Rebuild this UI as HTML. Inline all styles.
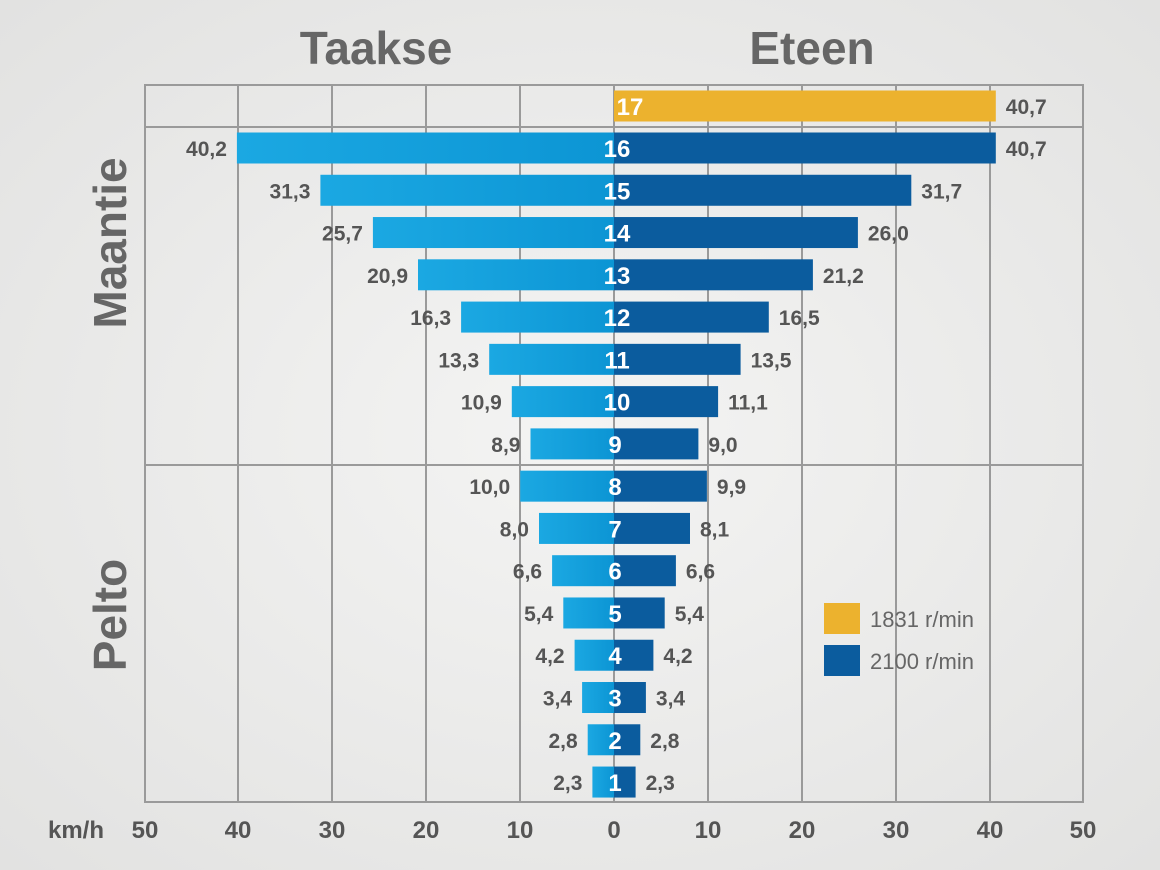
<!DOCTYPE html>
<html><head><meta charset="utf-8"><style>
html,body{margin:0;padding:0;background:#ebebeb;}
svg{display:block;font-family:"Liberation Sans",sans-serif;}
.v{font-size:21px;font-weight:bold;fill:#555;}
.e{text-anchor:end;}
.n{font-size:24px;font-weight:bold;fill:#fff;text-anchor:middle;}
</style></head><body>
<svg width="1160" height="870" viewBox="0 0 1160 870" xmlns="http://www.w3.org/2000/svg">
<defs>
<radialGradient id="bg" cx="50%" cy="50%" r="70%"><stop offset="0" stop-color="#f4f4f3"/><stop offset="1" stop-color="#e2e2e1"/></radialGradient>
<linearGradient id="lb" x1="0" x2="1"><stop offset="0" stop-color="#1ba8e2"/><stop offset="1" stop-color="#0c95d4"/></linearGradient>
</defs>
<rect width="1160" height="870" fill="url(#bg)"/>
<g stroke="#9a9a9a" stroke-width="2" fill="none">
<rect x="145" y="85" width="938" height="717"/>
<line x1="238" y1="85" x2="238" y2="802"/><line x1="332" y1="85" x2="332" y2="802"/>
<line x1="426" y1="85" x2="426" y2="802"/><line x1="520" y1="85" x2="520" y2="802"/>
<line x1="614" y1="85" x2="614" y2="802"/><line x1="708" y1="85" x2="708" y2="802"/>
<line x1="802" y1="85" x2="802" y2="802"/><line x1="896" y1="85" x2="896" y2="802"/>
<line x1="990" y1="85" x2="990" y2="802"/>
<line x1="145" y1="127" x2="1083" y2="127"/><line x1="145" y1="465" x2="1083" y2="465"/>
</g>

<g transform="translate(0,106)"><rect x="614" y="-15.5" width="381.8" height="31" fill="#ecb22e"/><text class="v" x="1005.8" y="8">40,7</text><text class="n" x="630" y="9">17</text></g>

<g transform="translate(0,148)"><rect x="614" y="-15.5" width="381.8" height="31" fill="#0b5c9e"/><text class="v" x="1005.8" y="8">40,7</text><rect x="236.9" y="-15.5" width="377.1" height="31" fill="url(#lb)"/><text class="v e" x="226.9" y="8">40,2</text><text class="n" x="617" y="9">16</text></g>
<g transform="translate(0,190.27)"><rect x="614" y="-15.5" width="297.3" height="31" fill="#0b5c9e"/><text class="v" x="921.3" y="8">31,7</text><rect x="320.4" y="-15.5" width="293.6" height="31" fill="url(#lb)"/><text class="v e" x="310.4" y="8">31,3</text><text class="n" x="617" y="9">15</text></g>
<g transform="translate(0,232.54)"><rect x="614" y="-15.5" width="243.9" height="31" fill="#0b5c9e"/><text class="v" x="867.9" y="8">26,0</text><rect x="372.9" y="-15.5" width="241.1" height="31" fill="url(#lb)"/><text class="v e" x="362.9" y="8">25,7</text><text class="n" x="617" y="9">14</text></g>
<g transform="translate(0,274.81)"><rect x="614" y="-15.5" width="198.9" height="31" fill="#0b5c9e"/><text class="v" x="822.9" y="8">21,2</text><rect x="418" y="-15.5" width="196" height="31" fill="url(#lb)"/><text class="v e" x="408" y="8">20,9</text><text class="n" x="617" y="9">13</text></g>
<g transform="translate(0,317.08)"><rect x="614" y="-15.5" width="154.8" height="31" fill="#0b5c9e"/><text class="v" x="778.8" y="8">16,5</text><rect x="461.1" y="-15.5" width="152.9" height="31" fill="url(#lb)"/><text class="v e" x="451.1" y="8">16,3</text><text class="n" x="617" y="9">12</text></g>
<g transform="translate(0,359.35)"><rect x="614" y="-15.5" width="126.6" height="31" fill="#0b5c9e"/><text class="v" x="750.6" y="8">13,5</text><rect x="489.2" y="-15.5" width="124.8" height="31" fill="url(#lb)"/><text class="v e" x="479.2" y="8">13,3</text><text class="n" x="617" y="9">11</text></g>
<g transform="translate(0,401.62)"><rect x="614" y="-15.5" width="104.1" height="31" fill="#0b5c9e"/><text class="v" x="728.1" y="8">11,1</text><rect x="511.8" y="-15.5" width="102.2" height="31" fill="url(#lb)"/><text class="v e" x="501.8" y="8">10,9</text><text class="n" x="617" y="9">10</text></g>
<g transform="translate(0,443.89)"><rect x="614" y="-15.5" width="84.4" height="31" fill="#0b5c9e"/><text class="v" x="708.4" y="8">9,0</text><rect x="530.5" y="-15.5" width="83.5" height="31" fill="url(#lb)"/><text class="v e" x="520.5" y="8">8,9</text><text class="n" x="615" y="9">9</text></g>
<g transform="translate(0,486.16)"><rect x="614" y="-15.5" width="92.9" height="31" fill="#0b5c9e"/><text class="v" x="716.9" y="8">9,9</text><rect x="520.2" y="-15.5" width="93.8" height="31" fill="url(#lb)"/><text class="v e" x="510.2" y="8">10,0</text><text class="n" x="615" y="9">8</text></g>
<g transform="translate(0,528.43)"><rect x="614" y="-15.5" width="76" height="31" fill="#0b5c9e"/><text class="v" x="700" y="8">8,1</text><rect x="539" y="-15.5" width="75" height="31" fill="url(#lb)"/><text class="v e" x="529" y="8">8,0</text><text class="n" x="615" y="9">7</text></g>
<g transform="translate(0,570.7)"><rect x="614" y="-15.5" width="61.9" height="31" fill="#0b5c9e"/><text class="v" x="685.9" y="8">6,6</text><rect x="552.1" y="-15.5" width="61.9" height="31" fill="url(#lb)"/><text class="v e" x="542.1" y="8">6,6</text><text class="n" x="615" y="9">6</text></g>
<g transform="translate(0,612.97)"><rect x="614" y="-15.5" width="50.7" height="31" fill="#0b5c9e"/><text class="v" x="674.7" y="8">5,4</text><rect x="563.3" y="-15.5" width="50.7" height="31" fill="url(#lb)"/><text class="v e" x="553.3" y="8">5,4</text><text class="n" x="615" y="9">5</text></g>
<g transform="translate(0,655.24)"><rect x="614" y="-15.5" width="39.4" height="31" fill="#0b5c9e"/><text class="v" x="663.4" y="8">4,2</text><rect x="574.6" y="-15.5" width="39.4" height="31" fill="url(#lb)"/><text class="v e" x="564.6" y="8">4,2</text><text class="n" x="615" y="9">4</text></g>
<g transform="translate(0,697.51)"><rect x="614" y="-15.5" width="31.9" height="31" fill="#0b5c9e"/><text class="v" x="655.9" y="8">3,4</text><rect x="582.1" y="-15.5" width="31.9" height="31" fill="url(#lb)"/><text class="v e" x="572.1" y="8">3,4</text><text class="n" x="615" y="9">3</text></g>
<g transform="translate(0,739.78)"><rect x="614" y="-15.5" width="26.3" height="31" fill="#0b5c9e"/><text class="v" x="650.3" y="8">2,8</text><rect x="587.7" y="-15.5" width="26.3" height="31" fill="url(#lb)"/><text class="v e" x="577.7" y="8">2,8</text><text class="n" x="615" y="9">2</text></g>
<g transform="translate(0,782.05)"><rect x="614" y="-15.5" width="21.6" height="31" fill="#0b5c9e"/><text class="v" x="645.6" y="8">2,3</text><rect x="592.4" y="-15.5" width="21.6" height="31" fill="url(#lb)"/><text class="v e" x="582.4" y="8">2,3</text><text class="n" x="615" y="9">1</text></g>

<g font-weight="bold" fill="#666" font-size="46" text-anchor="middle">
<text x="376" y="64">Taakse</text><text x="812" y="64">Eteen</text>
<text transform="translate(126,243) rotate(-90)">Maantie</text>
<text transform="translate(126,615) rotate(-90)">Pelto</text>
</g>
<g font-weight="bold" fill="#555" font-size="24" text-anchor="middle">
<text x="145" y="838">50</text><text x="238" y="838">40</text><text x="332" y="838">30</text><text x="426" y="838">20</text><text x="520" y="838">10</text><text x="614" y="838">0</text><text x="708" y="838">10</text><text x="802" y="838">20</text><text x="896" y="838">30</text><text x="990" y="838">40</text><text x="1083" y="838">50</text>
<text x="76" y="838">km/h</text>
</g>
<rect x="824" y="603" width="36" height="31" fill="#ecb22e"/>
<rect x="824" y="645" width="36" height="31" fill="#0b5c9e"/>
<g fill="#666" font-size="22"><text x="870" y="627">1831 r/min</text><text x="870" y="669">2100 r/min</text></g>
</svg>
</body></html>
